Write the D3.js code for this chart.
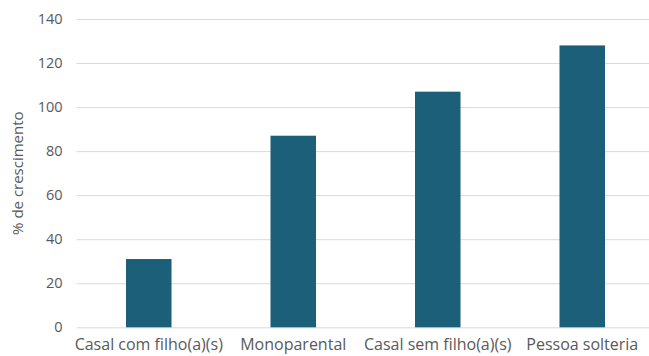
<!DOCTYPE html>
<html>
<head>
<meta charset="utf-8">
<script src="https://cdn.jsdelivr.net/npm/d3@7"></script>
<style>
  html, body { margin: 0; padding: 0; background: #ffffff; }
  svg { display: block; }
</style>
</head>
<body>
<svg id="chart" width="649" height="356"></svg>
<script>
// Household types and growth percentages
const categories = ["Casal com filho(a)(s)", "Monoparental", "Casal sem filho(a)(s)", "Pessoa solteria"];
const growth = [31, 87, 107, 128];
const yTicks = [0, 20, 40, 60, 80, 100, 120, 140];
const yTitle = "% de crescimento";

const width = 649, height = 356;
const plot = { left: 76.5, right: 654.5, top: 19, bottom: 327.3 };
const font = "'Open Sans', 'Noto Sans', sans-serif";
const textColor = "#595959";

const svg = d3.select("#chart");

const x = d3.scaleBand()
  .domain(categories)
  .range([plot.left, plot.right])
  .paddingInner(0.685)
  .paddingOuter(0.3425);

const y = d3.scaleLinear()
  .domain([0, 140])
  .range([plot.bottom, plot.top]);

// Horizontal gridlines and value labels
const yAxis = d3.axisLeft(y)
  .tickValues(yTicks)
  .tickSize(-(width - plot.left))
  .tickPadding(14);

const gy = svg.append("g")
  .attr("transform", `translate(${plot.left},0)`)
  .call(yAxis);
gy.select(".domain").remove();
gy.selectAll(".tick line").attr("stroke", "#d9d9d9").attr("stroke-width", 1);
gy.selectAll(".tick text")
  .attr("fill", textColor)
  .style("font-family", font)
  .style("font-size", "14.5px");

// Bars
svg.append("g").selectAll("rect")
  .data(categories)
  .join("rect")
  .attr("x", d => x(d))
  .attr("width", x.bandwidth())
  .attr("y", (d, i) => y(growth[i]))
  .attr("height", (d, i) => y(0) - y(growth[i]))
  .attr("fill", "#1b5f78");

// Category labels
const xAxis = d3.axisBottom(x).tickSize(0).tickPadding(11);
const gx = svg.append("g")
  .attr("transform", `translate(0,${plot.bottom})`)
  .call(xAxis);
gx.select(".domain").remove();
gx.selectAll(".tick text")
  .attr("fill", textColor)
  .style("font-family", font)
  .style("font-size", "16px");

// Y axis title
svg.append("text")
  .attr("transform", `translate(23,${(plot.top + plot.bottom) / 2}) rotate(-90)`)
  .attr("text-anchor", "middle")
  .attr("fill", textColor)
  .style("font-family", font)
  .style("font-size", "15px")
  .text(yTitle);
</script>
</body>
</html>
